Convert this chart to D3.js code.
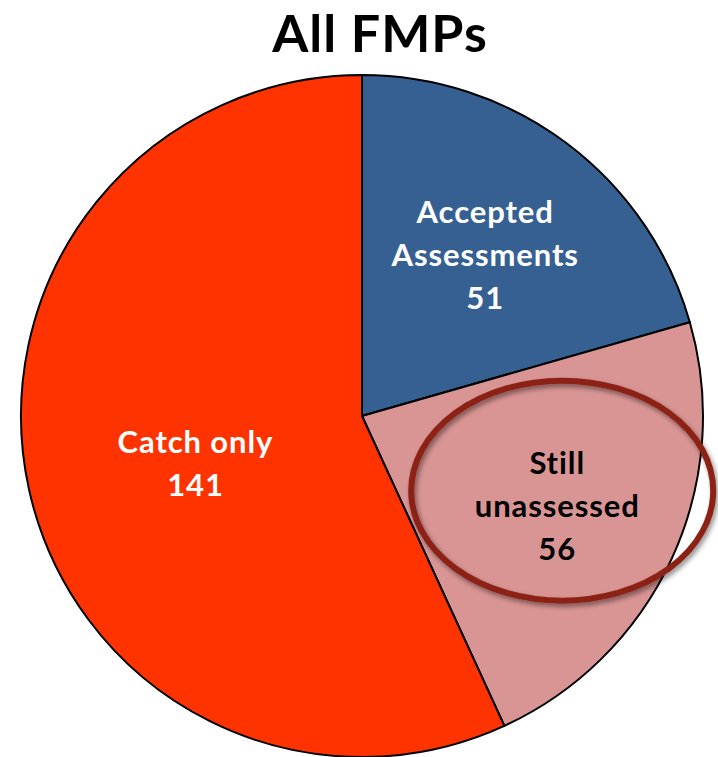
<!DOCTYPE html>
<html><head><meta charset="utf-8">
<script src="https://cdn.jsdelivr.net/npm/d3@7"></script>
<style>body{margin:0;background:#fff}svg{display:block}</style>
</head><body>
<svg id="c" width="718" height="757"></svg>
<script>
const title = "All FMPs";
const categories = ["Accepted Assessments", "Still unassessed", "Catch only"];
const labelLines = [["Accepted", "Assessments"], ["Still", "unassessed"], ["Catch only"]];
const values = [51, 56, 141];
const colors = ["#366092", "#D99594", "#FF3300"];
const textColors = ["#ffffff", "#000000", "#ffffff"];
const highlight = "Still unassessed";

const W = 718, H = 757;
const cx = 362, cy = 416, R = 341;
const labelR = [0.6, 0.63, 0.5];
const labelDy = [3, 0, 11];
const font = "Lato, 'Open Sans', sans-serif";

const svg = d3.select("#c");
const defs = svg.append("defs");
const f = defs.append("filter").attr("id","sh").attr("x","-20%").attr("y","-20%").attr("width","140%").attr("height","140%");
f.append("feDropShadow").attr("dx",2).attr("dy",3).attr("stdDeviation",2.5).attr("flood-color","#000").attr("flood-opacity",0.45);

svg.append("text").attr("x", 380).attr("y", 52).attr("text-anchor","middle")
  .attr("font-family", font).attr("font-weight","bold").attr("font-size", 52)
  .attr("letter-spacing", 1).attr("fill","#000").text(title);

const data = categories.map((c,i)=>({cat:c, value:values[i], i}));
const pie = d3.pie().value(d=>d.value).sort(null);
const arcs = pie(data);
const arc = d3.arc().innerRadius(0).outerRadius(R);
const g = svg.append("g").attr("transform",`translate(${cx},${cy})`);
g.selectAll("path").data(arcs).join("path")
  .attr("d", arc).attr("fill", d=>colors[d.data.i]).attr("stroke","#000").attr("stroke-width",2);

const lineH = 43, fs = 31;
const labelPos = {};
arcs.forEach(a=>{
  const i = a.data.i;
  const la = d3.arc().innerRadius(R*labelR[i]).outerRadius(R*labelR[i]);
  let [x,y] = la.centroid(a);
  y += labelDy[i];
  labelPos[a.data.cat] = [x,y];
  const lines = labelLines[i].concat([String(a.data.value)]);
  const t = g.append("text").attr("text-anchor","middle").attr("font-family",font).attr("font-weight","bold")
    .attr("font-size",fs).attr("letter-spacing",0.9).attr("fill",textColors[i]);
  const y0 = y - (lines.length-1)*lineH/2;
  lines.forEach((l,k)=>{
    t.append("tspan").attr("x",x).attr("y",y0+k*lineH).attr("dy","0.35em").text(l);
  });
});

// highlight ellipse around the still-unassessed label
const hc = labelPos[highlight];
g.append("ellipse").attr("cx", hc[0] + 5).attr("cy", hc[1] - 15).attr("rx",151).attr("ry",110)
  .attr("fill","none").attr("stroke","#8C2216").attr("stroke-width",6).attr("filter","url(#sh)");
</script>
</body></html>
